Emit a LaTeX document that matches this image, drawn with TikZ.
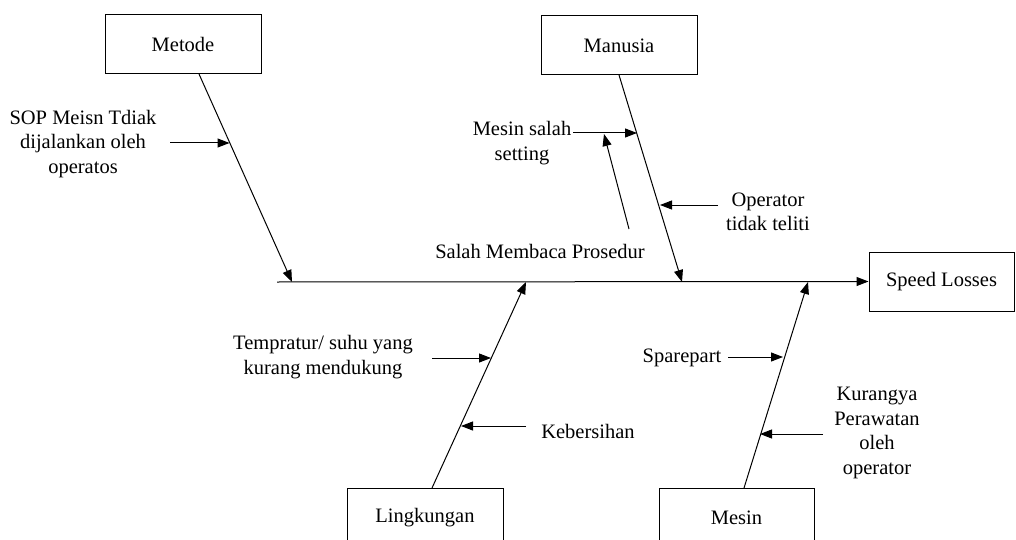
\documentclass[tikz,border=0pt]{standalone}
\usepackage{fontspec}
\setmainfont{Liberation Serif}
\usetikzlibrary{arrows.meta}
\tikzset{
  causebox/.style={draw, line width=1pt, minimum height=59pt, inner sep=0pt, font=\fontsize{20.5}{24.5}\selectfont},
  lbl/.style={align=center, inner sep=0pt, font=\fontsize{20.5}{24.5}\selectfont},
  line/.style={line width=1pt},
  arr/.style={line width=1pt, -{Triangle[length=12pt,width=9pt]}},
}
\begin{document}
\begin{tikzpicture}[x=1pt,y=-1pt]
\clip (0,0) rectangle (1016,540);
\fill[white] (0,0) rectangle (1016,540);
% boxes
\node[causebox, minimum width=156pt] (metode) at (183,44.5) {Metode};
\node[causebox, minimum width=156pt] (manusia) at (619,45.5) {Manusia};
\node[causebox, minimum width=145pt] (speed) at (941.5,281.5) {Speed Losses};
\node[causebox, minimum width=156pt] (lingk) at (425,517.5) {Lingkungan};
\node[causebox, minimum width=155pt] (mesin) at (736.5,517.5) {Mesin};
% spine
\coordinate (s0) at (277,282);
\draw[arr] (s0) -- (speed.west);
% bone endpoints
\coordinate (metB) at (199,74);
\coordinate (metS) at (292,282);
\coordinate (manB) at (619,75);
\coordinate (manS) at (682,282);
\coordinate (linB) at (432,488);
\coordinate (linS) at (526,282);
\coordinate (mesB) at (744,488);
\coordinate (mesS) at (808,282);
\draw[arr] (metB) -- (metS);
\draw[arr] (manB) -- (manS);
\draw[arr] (linB) -- (linS);
\draw[arr] (mesB) -- (mesS);
% labels
\node[lbl] (sop) at (83,144) {SOP Meisn Tdiak\\dijalankan oleh\\operatos};
\coordinate (sopA) at (170,143);
\coordinate (sopT) at (229.5,143);
\draw[arr] (sopA) -- (sopT);

\node[lbl] (mss) at (522,143) {Mesin salah\\setting};
\coordinate (mssA) at (573,133);
\coordinate (mssT) at (637,133);
\draw[arr] (mssA) -- (mssT);

\node[lbl] (smp) at (540,251) {Salah Membaca Prosedur};
\coordinate (smpA) at (629,229);
\coordinate (smpT) at (604,134);
\draw[arr] (smpA) -- (smpT);

\node[lbl] (opt) at (768,212) {Operator\\tidak teliti};
\coordinate (optA) at (718,205);
\coordinate (optT) at (660,205);
\draw[arr] (optA) -- (optT);

\node[lbl] (temp) at (323,357) {Tempratur/ suhu yang\\kurang mendukung};
\coordinate (tempA) at (432,358);
\coordinate (tempT) at (491,358);
\draw[arr] (tempA) -- (tempT);

\node[lbl] (keb) at (588,431) {Kebersihan};
\coordinate (kebA) at (526,426);
\coordinate (kebT) at (461,426);
\draw[arr] (kebA) -- (kebT);

\node[lbl] (spare) at (682,358) {Sparepart};
\coordinate (spareA) at (728,357);
\coordinate (spareT) at (783,357);
\draw[arr] (spareA) -- (spareT);

\node[lbl] (kur) at (877,433) {Kurangya\\Perawatan\\oleh\\operator};
\coordinate (kurA) at (823,434);
\coordinate (kurT) at (760,434);
\draw[arr] (kurA) -- (kurT);
\end{tikzpicture}
\end{document}
